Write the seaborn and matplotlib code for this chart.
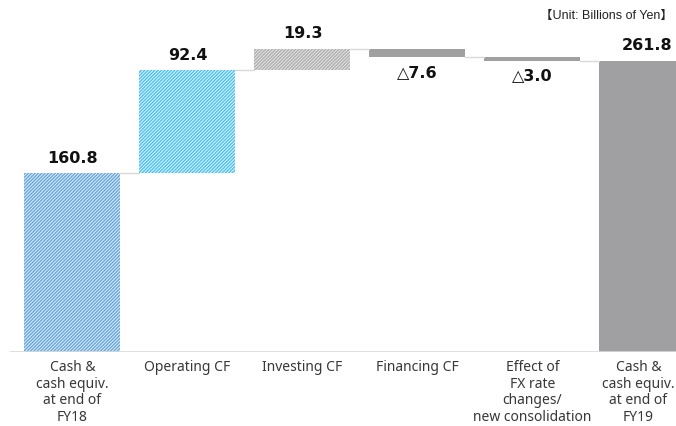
import numpy as np
import pandas as pd
import matplotlib
matplotlib.use("Agg")
import matplotlib.pyplot as plt
import matplotlib.transforms as mtransforms
import seaborn as sns

categories = [
    "Cash &\ncash equiv.\nat end of\nFY18",
    "Operating CF",
    "Investing CF",
    "Financing CF",
    "Effect of\nFX rate\nchanges/\nnew consolidation",
    "Cash &\ncash equiv.\nat end of\nFY19",
]
changes = [160.8, 92.4, 19.3, -7.6, -3.0]
closing = 261.8
value_text = ["160.8", "92.4", "19.3", "\u25b37.6", "\u25b33.0", "261.8"]

# waterfall geometry from the values
bottoms, heights, levels = [], [], []
level = 0.0
for v in changes:
    bottoms.append(min(level, level + v))
    heights.append(abs(v))
    level += v
    levels.append(level)
bottoms.append(0.0)
heights.append(closing)
levels[-1] = closing

df = pd.DataFrame({"label": categories, "height": heights, "bottom": bottoms})

sns.set_style("white")
fig = plt.figure(figsize=(6.76, 4.26), dpi=100)
ax = fig.add_axes([10 / 676, 74 / 426, 666 / 676, 352 / 426])

plt.rcParams["hatch.linewidth"] = 0.6
sns.barplot(data=df, x="label", y="height", bottom=df["bottom"].values,
            width=0.835, ax=ax, color="#a0a0a0")

styles = [
    ("#6aa9de", "#eef5fb", "//////////"),
    ("#52c3f0", "#eefaff", "//////////"),
    ("#b0b0b0", "#ececec", "//////////"),
    ("#a0a0a0", None, None),
    ("#a0a0a0", None, None),
    ("#a0a0a3", None, None),
]
for p, (fc, hc, hatch) in zip(ax.patches, styles):
    p.set_facecolor(fc)
    p.set_linewidth(0)
    if hatch:
        p.set_hatch(hatch)
        p.set_edgecolor(hc)

# connectors between bars
w = 0.835
for i in range(len(categories) - 1):
    ax.plot([i + w / 2, i + 1 - w / 2], [levels[i], levels[i]], color="#d9d9d9", lw=1)
ax.axhline(0, color="#d9d9d9", lw=1.2)

# value labels
for i, txt in enumerate(value_text):
    if i < len(changes) and changes[i] < 0:
        y, off = bottoms[i], -15
    else:
        y, off = bottoms[i] + heights[i], 15
    ax.annotate(txt, (i, y), xytext=(0, off), textcoords="offset pixels",
                ha="center", va="center", fontsize=11.5, fontweight="bold",
                color="#111111", family=["DejaVu Sans"])

ax.set_xlim(-0.543, 5.248)
ax.set_ylim(0, 316.3)
ax.set_xlabel("")
ax.set_ylabel("")
ax.set_yticks([])
ax.tick_params(axis="x", length=0, pad=5.5, labelsize=10, labelcolor="#383838")
for lbl in ax.get_xticklabels():
    lbl.set_linespacing(1.17)
    lbl.set_family(["Noto Sans", "DejaVu Sans"])
last = ax.get_xticklabels()[-1]
last.set_transform(last.get_transform() +
                   mtransforms.ScaledTranslation(-9 / 100, 0, fig.dpi_scale_trans))
for s in ax.spines.values():
    s.set_visible(False)

fig.text(0.995, 0.963, "\u3010Unit: Billions of Yen\u3011", ha="right", va="center",
         fontsize=9, color="#222222", family=["Liberation Sans", "Noto Sans CJK JP"])

fig.savefig("out.png", dpi=100)
